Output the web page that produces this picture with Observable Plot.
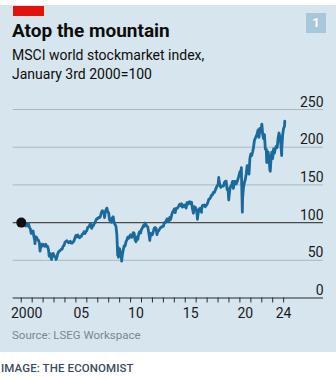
<!DOCTYPE html>
<html>
<head>
<meta charset="utf-8">
<script src="https://cdn.jsdelivr.net/npm/d3@7"></script>
<script src="https://cdn.jsdelivr.net/npm/@observablehq/plot@0.6"></script>
<style>
  html, body { margin: 0; padding: 0; background: #fff; }
  body { width: 336px; height: 380px; position: relative; overflow: hidden; font-family: Roboto, "Noto Sans", sans-serif; }
  #panel { position: absolute; left: 0; top: 5px; width: 336px; height: 347px; background: #d7e5ee; }
  #redbar { position: absolute; left: 13px; top: 1px; width: 31px; height: 10px; background: #e3120b; }
  #title { position: absolute; left: 12px; top: 15px; font-size: 19px; font-weight: 700; color: #0d0d0d; line-height: 22px; white-space: nowrap; }
  #subtitle { position: absolute; left: 12px; top: 41px; font-size: 14px; color: #0d0d0d; line-height: 18.5px; white-space: nowrap; }
  #badge { position: absolute; left: 306px; top: 8px; width: 20px; height: 20px; background: #a9c7da; color: #fff; font-weight: 700; font-size: 13px; line-height: 20px; text-align: center; }
  #source { position: absolute; left: 12px; top: 323px; font-size: 11.5px; color: #7a8891; line-height: 14px; white-space: nowrap; }
  #chart { position: absolute; left: 0; top: 90px; }
  #credit { position: absolute; left: 1px; top: 362px; font-size: 11.5px; font-weight: 500; color: #3b4c5c; line-height: 13px; letter-spacing: 0.1px; white-space: nowrap; }
</style>
</head>
<body>
<div id="panel">
  <div id="redbar"></div>
  <div id="title">Atop the mountain</div>
  <div id="subtitle">MSCI world stockmarket index,<br>January 3rd 2000=100</div>
  <div id="badge">1</div>
  <div id="source">Source: LSEG Workspace</div>
</div>
<div id="chart"></div>
<div id="credit">IMAGE: THE ECONOMIST</div>
<script>
// MSCI World index, January 3rd 2000 = 100
const dates = [
  "2000-01-03","2000-01-31","2000-02-29","2000-03-31","2000-04-30","2000-05-31","2000-06-30","2000-07-31","2000-08-31","2000-09-30","2000-10-31","2000-11-30","2000-12-31",
  "2001-01-31","2001-02-28","2001-03-31","2001-04-04","2001-04-30","2001-05-31","2001-06-30","2001-07-31","2001-08-31","2001-09-21","2001-09-30","2001-10-31","2001-11-30","2001-12-31",
  "2002-01-31","2002-02-28","2002-03-31","2002-04-30","2002-05-31","2002-06-30","2002-07-23","2002-07-31","2002-08-31","2002-09-30","2002-10-09","2002-10-31","2002-11-30","2002-12-31",
  "2003-01-31","2003-02-28","2003-03-11","2003-03-31","2003-04-30","2003-05-31","2003-06-30","2003-07-31","2003-08-31","2003-09-30","2003-10-31","2003-11-30","2003-12-31",
  "2004-01-31","2004-02-29","2004-03-31","2004-04-30","2004-05-31","2004-06-30","2004-07-31","2004-08-31","2004-09-30","2004-10-31","2004-11-30","2004-12-31",
  "2005-01-31","2005-02-28","2005-03-31","2005-04-30","2005-05-31","2005-06-30","2005-07-31","2005-08-31","2005-09-30","2005-10-31","2005-11-30","2005-12-31",
  "2006-01-31","2006-02-28","2006-03-31","2006-04-30","2006-05-31","2006-06-13","2006-06-30","2006-07-31","2006-08-31","2006-09-30","2006-10-31","2006-11-30","2006-12-31",
  "2007-01-31","2007-02-28","2007-03-31","2007-04-30","2007-05-31","2007-06-30","2007-07-31","2007-08-16","2007-08-31","2007-09-30","2007-10-31","2007-11-30","2007-12-31",
  "2008-01-31","2008-02-29","2008-03-31","2008-04-30","2008-05-31","2008-06-30","2008-07-31","2008-08-31","2008-09-30","2008-10-27","2008-10-31","2008-11-20","2008-11-30","2008-12-31",
  "2009-01-31","2009-02-28","2009-03-09","2009-03-31","2009-04-30","2009-05-31","2009-06-30","2009-07-31","2009-08-31","2009-09-30","2009-10-31","2009-11-30","2009-12-31",
  "2010-01-31","2010-02-28","2010-03-31","2010-04-30","2010-05-31","2010-06-30","2010-07-31","2010-08-31","2010-09-30","2010-10-31","2010-11-30","2010-12-31",
  "2011-01-31","2011-02-28","2011-03-31","2011-04-30","2011-05-31","2011-06-30","2011-07-31","2011-08-31","2011-09-30","2011-10-04","2011-10-31","2011-11-30","2011-12-31",
  "2012-01-31","2012-02-29","2012-03-31","2012-04-30","2012-05-31","2012-06-30","2012-07-31","2012-08-31","2012-09-30","2012-10-31","2012-11-30","2012-12-31",
  "2013-01-31","2013-02-28","2013-03-31","2013-04-30","2013-05-31","2013-06-30","2013-07-31","2013-08-31","2013-09-30","2013-10-31","2013-11-30","2013-12-31",
  "2014-01-31","2014-02-28","2014-03-31","2014-04-30","2014-05-31","2014-06-30","2014-07-31","2014-08-31","2014-09-30","2014-10-31","2014-11-30","2014-12-31",
  "2015-01-31","2015-02-28","2015-03-31","2015-04-30","2015-05-31","2015-06-30","2015-07-31","2015-08-31","2015-09-30","2015-10-31","2015-11-30","2015-12-31",
  "2016-01-31","2016-02-11","2016-02-29","2016-03-31","2016-04-30","2016-05-31","2016-06-27","2016-06-30","2016-07-31","2016-08-31","2016-09-30","2016-10-31","2016-11-30","2016-12-31",
  "2017-01-31","2017-02-28","2017-03-31","2017-04-30","2017-05-31","2017-06-30","2017-07-31","2017-08-31","2017-09-30","2017-10-31","2017-11-30","2017-12-31",
  "2018-01-26","2018-01-31","2018-02-28","2018-03-31","2018-04-30","2018-05-31","2018-06-30","2018-07-31","2018-08-31","2018-09-30","2018-10-31","2018-11-30","2018-12-24","2018-12-31",
  "2019-01-31","2019-02-28","2019-03-31","2019-04-30","2019-05-31","2019-06-30","2019-07-31","2019-08-31","2019-09-30","2019-10-31","2019-11-30","2019-12-31",
  "2020-01-31","2020-02-19","2020-02-29","2020-03-23","2020-03-31","2020-04-30","2020-05-31","2020-06-30","2020-07-31","2020-08-31","2020-09-30","2020-10-31","2020-11-30","2020-12-31",
  "2021-01-31","2021-02-28","2021-03-31","2021-04-30","2021-05-31","2021-06-30","2021-07-31","2021-08-31","2021-09-30","2021-10-31","2021-11-30","2021-12-31",
  "2022-01-04","2022-01-31","2022-02-28","2022-03-31","2022-04-30","2022-05-31","2022-06-16","2022-06-30","2022-07-31","2022-08-31","2022-09-30","2022-10-12","2022-10-31","2022-11-30","2022-12-31",
  "2023-01-31","2023-02-28","2023-03-31","2023-04-30","2023-05-31","2023-06-30","2023-07-31","2023-08-31","2023-09-30","2023-10-27","2023-10-31","2023-11-30","2023-12-31",
  "2024-01-31","2024-02-09"
];
const values = [
  100,95.7,95.8,102.8,98.2,95.5,98.4,95.9,99.0,93.6,91.8,85.6,86.7,
  88.8,81.2,75.8,72.0,81.3,80.1,77.6,76.5,72.7,62.2,66.2,67.5,71.4,71.2,
  69.2,68.5,71.3,68.3,68.3,64.1,55.4,58.7,58.9,52.3,51.1,56.3,59.2,56.3,
  54.6,53.5,51.1,53.2,58.0,61.2,62.2,63.3,64.6,64.9,68.8,69.5,73.6,
  74.8,75.9,75.1,73.2,73.6,75.2,72.7,72.9,74.1,75.9,79.5,83.0,
  80.8,83.7,81.8,79.8,81.3,81.7,84.5,85.3,87.9,85.5,88.1,89.3,
  93.7,94.0,95.8,99.0,95.0,92.3,95.2,95.7,98.4,99.9,102.9,105.3,105.3,
  106.8,106.5,108.2,112.9,115.7,114.9,112.2,106.5,111.4,116.5,119.2,114.6,112.9,
  103.3,102.3,100.5,106.3,107.8,99.6,97.5,95.0,83.7,56.8,67.7,54.0,63.4,65.3,
  59.5,53.0,48.9,57.0,63.4,69.2,68.8,74.4,77.2,80.8,79.2,82.2,83.8,
  80.4,81.4,86.8,85.9,77.1,74.6,81.1,77.8,84.9,88.1,86.1,90.9,
  92.9,95.8,95.0,99.4,97.2,95.5,93.9,86.7,78.8,76.3,85.8,83.2,84.0,
  88.2,92.5,93.5,92.5,84.0,88.3,89.4,91.6,93.4,94.0,94.9,95.0,
  99.8,99.6,101.8,104.8,104.6,101.6,106.7,104.1,109.2,113.6,115.3,118.0,
  113.2,118.7,118.8,120.0,122.2,124.5,122.3,124.9,120.6,121.3,123.4,121.4,
  119.3,126.6,124.4,127.2,127.7,124.9,127.0,118.4,112.4,121.2,120.5,118.1,
  111.1,104.4,110.2,117.0,118.8,119.4,113.6,117.8,122.8,122.7,123.4,121.0,122.6,124.4,
  127.4,131.0,131.6,133.5,136.4,136.9,140.2,140.1,143.0,145.7,148.8,149.4,
  159.8,157.2,150.2,146.7,148.3,148.5,148.4,153.1,154.8,155.1,143.8,145.4,130.0,133.8,
  144.1,148.2,149.4,154.7,145.3,154.7,154.8,151.2,154.0,157.9,161.9,167.5,
  166.4,172.9,152.1,113.8,132.2,146.4,153.2,157.2,164.8,175.5,169.4,164.3,185.1,191.0,
  189.0,193.7,199.7,208.9,211.9,214.3,218.0,223.0,213.0,225.0,220.0,229.5,
  230.7,217.2,211.3,216.8,197.5,197.5,179.7,180.8,193.7,185.6,168.9,168.1,180.5,193.3,184.9,
  197.8,192.1,198.2,201.4,199.4,211.8,218.8,213.6,204.4,189.0,198.2,216.4,225.1,
  227.8,234.5
];
const gridValues = [50, 150, 200, 250];
const baseValue = [100];
const yTickLabels = [0, 50, 100, 150, 200, 250];
const yearTicks = d3.range(2000, 2025);
const xLabelYears = ["2000-07-01", "2005-07-01", "2010-07-01", "2015-07-01", "2020-07-01", "2024-01-01"];
const xLabelTexts = ["2000", "05", "10", "15", "20", "24"];

const parse = d3.utcParse("%Y-%m-%d");
const series = dates.map((d, i) => ({date: parse(d), value: values[i]}));
const xLabels = xLabelYears.map((d, i) => ({date: parse(d), text: xLabelTexts[i]}));
const tickDates = yearTicks.map(y => new Date(Date.UTC(y, 0, 1)));

const chart = Plot.plot({
  width: 336,
  height: 240,
  marginTop: 19,
  marginBottom: 32.5,
  marginLeft: 12.7,
  marginRight: 13,
  style: {background: "transparent", fontFamily: "Roboto, 'Noto Sans', sans-serif", overflow: "visible"},
  x: {type: "utc", domain: [parse("1999-04-08"), parse("2027-08-25")]},
  y: {domain: [0, 250], axis: null},
  marks: [
    Plot.ruleY(gridValues, {stroke: "#a7b8c2", strokeWidth: 1}),
    Plot.ruleY(baseValue, {stroke: "#4a4a4a", strokeWidth: 1.2}),
    Plot.axisX({ticks: tickDates, tickSize: 5, tickFormat: () => "", stroke: "#2b2b2b", strokeWidth: 1}),
    Plot.ruleY([0], {stroke: "#2b2b2b", strokeWidth: 1.2}),
    Plot.text(xLabels, {x: "date", y: 0, text: "text", dy: 16, fill: "#1a1a1a", fontSize: 14}),
    Plot.text(yTickLabels, {y: d => d, text: d => String(d), frameAnchor: "right", textAnchor: "end", lineAnchor: "bottom", dy: -3, fill: "#1a1a1a", fontSize: 14}),
    Plot.line(series, {x: "date", y: "value", stroke: "#1b6a9c", strokeWidth: 2.8, strokeLinejoin: "round", strokeLinecap: "round"}),
    Plot.dot(series.slice(0, 1), {x: "date", y: "value", r: 5, fill: "#111", stroke: "none"})
  ]
});
document.getElementById("chart").appendChild(chart);
</script>
</body>
</html>
